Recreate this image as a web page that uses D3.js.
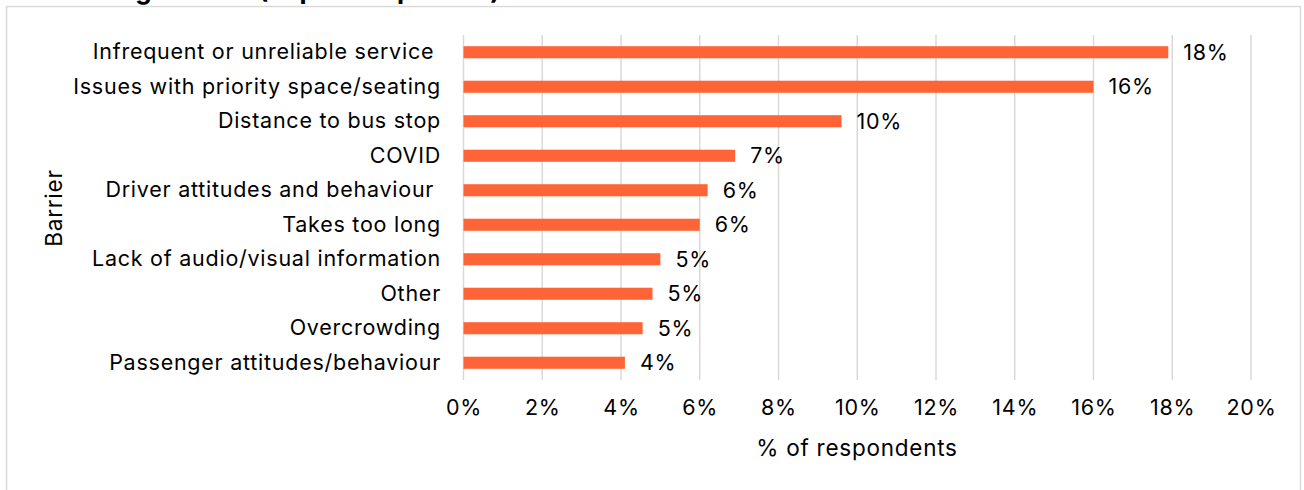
<!DOCTYPE html>
<html>
<head>
<meta charset="utf-8">
<script src="https://cdn.jsdelivr.net/npm/d3@7"></script>
<style>
  html, body { margin: 0; padding: 0; background: #fff; }
  svg { display: block; font-family: "Inter", "Roboto", sans-serif; }
</style>
</head>
<body>
<svg id="chart" width="1304" height="490"></svg>
<script>
const categories = [
  "Infrequent or unreliable service ",
  "Issues with priority space/seating",
  "Distance to bus stop",
  "COVID",
  "Driver attitudes and behaviour ",
  "Takes too long",
  "Lack of audio/visual information",
  "Other",
  "Overcrowding",
  "Passenger attitudes/behaviour"
];
const values = [17.9, 16.0, 9.6, 6.9, 6.2, 6.0, 5.0, 4.8, 4.55, 4.1];
const valueLabels = ["18%", "16%", "10%", "7%", "6%", "6%", "5%", "5%", "5%", "4%"];
const xTicks = [0, 2, 4, 6, 8, 10, 12, 14, 16, 18, 20];
const titleText = "Barriers to using the bus (Top 10 responses)";
const xTitle = "% of respondents";
const yTitle = "Barrier";

const FS = 21.5;
const LS = "0.75px";

const svg = d3.select("#chart");

// chart frame
svg.append("rect")
  .attr("x", 6.5).attr("y", 6.5).attr("width", 1294).attr("height", 500)
  .attr("fill", "#fff").attr("stroke", "#d9d9d9").attr("stroke-width", 1.5);

// cropped title (cut off at the top edge as in the reference)
svg.append("text")
  .attr("x", 500).attr("y", -1)
  .attr("text-anchor", "end")
  .attr("font-weight", 700).attr("font-size", 26)
  .attr("fill", "#000")
  .text(titleText);

const x = d3.scaleLinear().domain([0, 20]).range([463.5, 1251]);
const y = d3.scaleBand().domain(categories).range([35, 380]).paddingInner(0.65).paddingOuter(0.325);

// gridlines
svg.append("g").selectAll("line").data(xTicks).join("line")
  .attr("x1", d => x(d)).attr("x2", d => x(d))
  .attr("y1", 35).attr("y2", 380)
  .attr("stroke", "#d9d9d9").attr("stroke-width", 1.5);

// bars
svg.append("g").selectAll("rect").data(values).join("rect")
  .attr("x", x(0)).attr("y", (d, i) => y(categories[i]))
  .attr("width", d => x(d) - x(0)).attr("height", y.bandwidth())
  .attr("fill", "#ff6436");

// value labels
svg.append("g").selectAll("text").data(values).join("text")
  .attr("x", d => x(d) + 15)
  .attr("y", (d, i) => y(categories[i]) + y.bandwidth() / 2)
  .attr("dy", "0.36em")
  .attr("font-size", FS).attr("letter-spacing", LS).attr("fill", "#000")
  .text((d, i) => valueLabels[i]);

// category axis
const yAxis = d3.axisLeft(y).tickSize(0).tickPadding(0);
const gy = svg.append("g").attr("transform", "translate(441,0)").call(yAxis);
gy.select(".domain").remove();
gy.selectAll("text").attr("font-size", FS).attr("letter-spacing", LS).attr("fill", "#000")
  .attr("font-family", "Inter, Roboto, sans-serif")
  .style("white-space", "pre");

// x axis
const xAxis = d3.axisBottom(x).tickValues(xTicks).tickFormat(d => d + "%").tickSize(0).tickPadding(0);
const gx = svg.append("g").attr("transform", "translate(0,400)").call(xAxis);
gx.select(".domain").remove();
gx.selectAll("text").attr("font-size", FS).attr("letter-spacing", LS).attr("fill", "#000")
  .attr("font-family", "Inter, Roboto, sans-serif");

// axis titles
svg.append("text")
  .attr("x", 857).attr("y", 456)
  .attr("text-anchor", "middle").attr("font-size", 22.5).attr("letter-spacing", LS).attr("fill", "#000")
  .text(xTitle);
svg.append("text")
  .attr("transform", "translate(62,208) rotate(-90)")
  .attr("text-anchor", "middle").attr("font-size", 22.5).attr("letter-spacing", LS).attr("fill", "#000")
  .text(yTitle);
</script>
</body>
</html>
